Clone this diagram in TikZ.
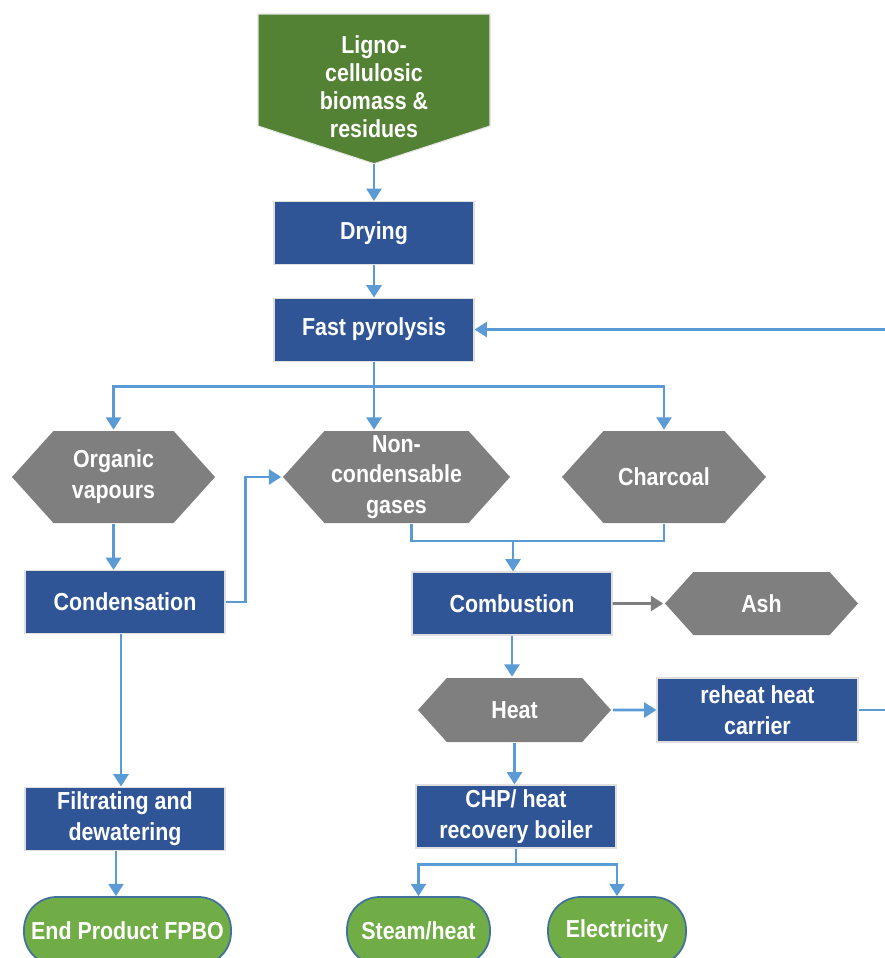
\documentclass[tikz,border=0pt]{standalone}
\usepackage{fontspec}
\setmainfont{Liberation Sans}[FakeStretch=0.87]
\usepackage{tikz}
\usetikzlibrary{arrows.meta, positioning, calc, shapes.symbols}
\definecolor{StepBlue}{HTML}{2F5597}
\definecolor{ProdGrey}{HTML}{7F7F7F}
\definecolor{FeedGreen}{HTML}{548235}
\definecolor{EndGreen}{HTML}{70AD47}
\definecolor{EndEdge}{HTML}{41719C}
\definecolor{FlowBlue}{HTML}{5B9BD5}

\begin{document}
\begin{tikzpicture}[>={Triangle[width=8.5pt,length=7pt]}, line width=1.5pt,
    font=\fontsize{14}{17.5}\selectfont\bfseries,
    stepbox/.style={draw=gray!25, line width=0.6pt, fill=StepBlue, text=white,
        minimum width=4cm, minimum height=1.26cm, align=center, inner sep=1pt},
    product/.style={signal, signal to=west and east, signal pointer angle=96,
        fill=ProdGrey, text=white, align=center, inner sep=1pt},
    endbox/.style={draw=EndEdge, line width=1pt, fill=EndGreen, text=white,
        rounded corners=0.65cm, minimum height=1.36cm, inner sep=1pt},
    flow/.style={->, FlowBlue}]
  \useasboundingbox (0,0) rectangle (17.7,-19.16);
  \clip (0,0) rectangle (17.7,-19.16);

  % feedstock and pre-treatment
  \node[signal, signal to=south, signal pointer angle=144, fill=FeedGreen,
        draw=gray!20, line width=0.6pt, minimum width=4.64cm,
        minimum height=2.24cm, inner sep=0pt,
        label={[text=white, align=center, yshift=-0.34cm,
                font=\fontsize{14}{16}\selectfont\bfseries]center:Ligno-\\cellulosic\\biomass \&\\residues}]
        (biomass) at (7.48,-1.4) {};
  \node[stepbox] (drying) at (7.48,-4.66) {Drying};
  \node[stepbox, below=0.65cm of drying] (pyrolysis) {Fast pyrolysis};

  % pyrolysis products
  \node[product, minimum width=4.06cm, minimum height=1.84cm] (vapours)
        at (2.27,-9.54) {Organic\\vapours};
  \node[product, minimum width=4.54cm, minimum height=1.84cm] (gases)
        at (7.93,-9.54) {Non-\\condensable\\gases};
  \node[product, minimum width=4.08cm, minimum height=1.84cm] (charcoal)
        at (13.28,-9.54) {Charcoal};

  % oil line
  \node[stepbox] (condensation) at (2.5,-12.04) {Condensation};
  \node[stepbox, below=3.05cm of condensation] (filtrating)
        {Filtrating and\\dewatering};
  \node[endbox, minimum width=4.14cm] (fpbo) at (2.55,-18.62) {End Product FPBO};

  % energy line
  \node[stepbox] (combustion) at (10.24,-12.07) {Combustion};
  \node[product, minimum width=3.86cm, minimum height=1.26cm] (ash)
        at (15.23,-12.07) {Ash};
  \node[product, minimum width=3.86cm, minimum height=1.28cm] (heat)
        at (10.29,-14.2) {Heat};
  \node[stepbox, minimum width=4.02cm, minimum height=1.28cm] (reheat)
        at (15.15,-14.2) {reheat heat\\carrier};
  \node[stepbox] (chp) at (10.32,-16.33) {CHP/ heat\\recovery boiler};
  \node[endbox, minimum width=2.86cm] (steam) at (8.37,-18.62) {Steam/heat};
  \node[endbox, minimum width=2.76cm] (electricity) at (12.34,-18.62) {Electricity};

  \coordinate[below=0.5cm of pyrolysis.south] (split);
  \coordinate (gasjoin) at (10.26,-10.82);
  \coordinate[below=0.32cm of chp.south] (chpsplit);

  \draw[flow] (biomass.south) -- (drying.north);
  \draw[flow] (drying) -- (pyrolysis);
  \draw[FlowBlue] (pyrolysis.south) -- (split);
  \draw[flow] (split) -| (vapours.north);
  \draw[flow] (split) -| (charcoal.north);
  \draw[flow] (split) -- (split |- gases.north);
  \draw[flow] (vapours.south) -- (vapours.south |- condensation.north);
  \draw[flow] (condensation.east) -- ++(0.4,0) |- (gases.west);
  \draw[FlowBlue] ([xshift=0.3cm]gases.south) |- (gasjoin) -| (charcoal.south);
  \draw[flow] (gasjoin) -- (gasjoin |- combustion.north);
  \draw[->, ProdGrey] (combustion) -- (ash);
  \draw[flow] (combustion.south) -- (combustion.south |- heat.north);
  \draw[flow] (heat) -- (reheat);
  \draw[flow] (reheat.east) -- ++(1,0) |- (pyrolysis.east);
  \draw[flow] (heat.south) -- (heat.south |- chp.north);
  \draw[FlowBlue] (chp.south) -- (chpsplit);
  \draw[flow] (chpsplit) -| (steam.north);
  \draw[flow] (chpsplit) -| (electricity.north);
  \draw[flow] ([xshift=-0.08cm]condensation.south) -- ([xshift=-0.08cm]filtrating.north);
  \draw[flow] ([xshift=-0.18cm]filtrating.south) -- ([xshift=-0.18cm]filtrating.south |- fpbo.north);
\end{tikzpicture}
\end{document}
